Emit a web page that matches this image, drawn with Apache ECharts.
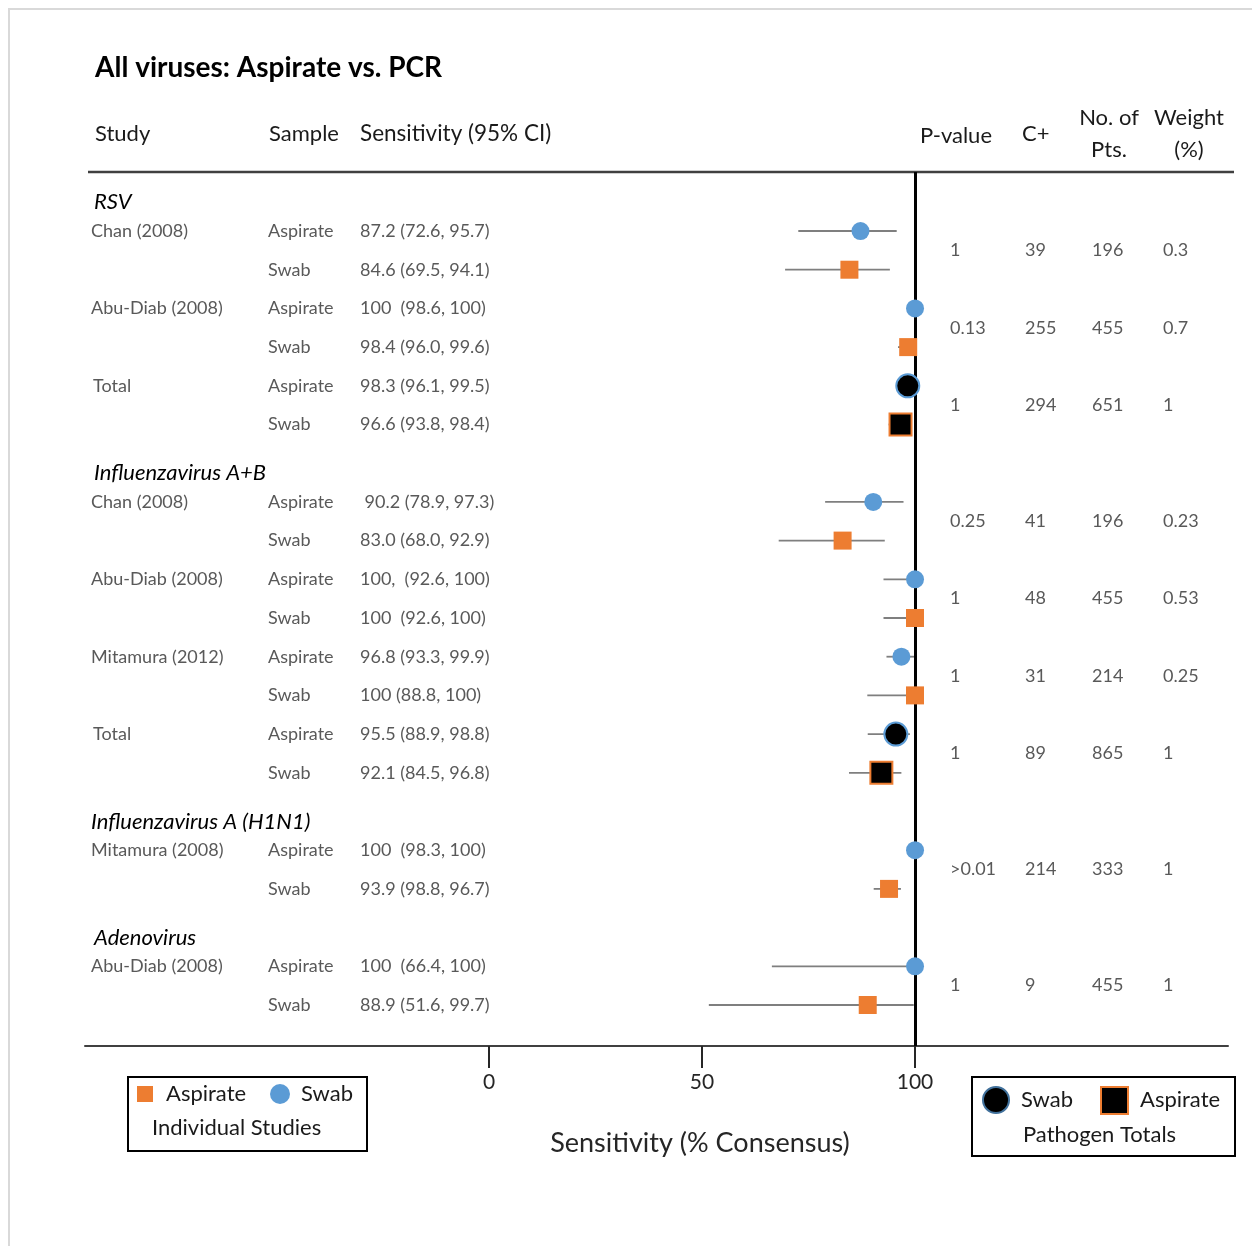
<!DOCTYPE html>
<html>
<head>
<meta charset="utf-8">
<title>All viruses: Aspirate vs. PCR</title>
<script src="https://cdn.jsdelivr.net/npm/echarts@6/dist/echarts.min.js"></script>
<style>
  html, body { margin: 0; padding: 0; background: #ffffff; }
  #chart { width: 1252px; height: 1246px; }
</style>
</head>
<body>
<div id="chart"></div>
<script>
// ---- Data ---------------------------------------------------------------
const groupNames = ['RSV', 'Influenzavirus A+B', 'Influenzavirus A (H1N1)', 'Adenovirus'];
const groupRows = [-1, 6, 15, 18];

const studies = ['Chan (2008)', '', 'Abu-Diab (2008)', '', 'Total', '',
  'Chan (2008)', '', 'Abu-Diab (2008)', '', 'Mitamura (2012)', '', 'Total', '',
  'Mitamura (2008)', '', 'Abu-Diab (2008)', ''];
const samples = ['Aspirate', 'Swab', 'Aspirate', 'Swab', 'Aspirate', 'Swab',
  'Aspirate', 'Swab', 'Aspirate', 'Swab', 'Aspirate', 'Swab', 'Aspirate', 'Swab',
  'Aspirate', 'Swab', 'Aspirate', 'Swab'];
const rows = [0, 1, 2, 3, 4, 5, 7, 8, 9, 10, 11, 12, 13, 14, 16, 17, 19, 20];
const isTotal = [0, 0, 0, 0, 1, 1, 0, 0, 0, 0, 0, 0, 1, 1, 0, 0, 0, 0];
const sensitivity = [87.2, 84.6, 100, 98.4, 98.3, 96.6, 90.2, 83.0, 100, 100,
  96.8, 100, 95.5, 92.1, 100, 93.9, 100, 88.9];
const ciLower = [72.6, 69.5, 98.6, 96.0, 96.1, 93.8, 78.9, 68.0, 92.6, 92.6,
  93.3, 88.8, 88.9, 84.5, 98.3, 90.3, 66.4, 51.6];
const ciUpper = [95.7, 94.1, 100, 99.6, 99.5, 98.4, 97.3, 92.9, 100, 100,
  99.9, 100, 98.8, 96.8, 100, 96.7, 100, 99.7];
const ciText = ['87.2 (72.6, 95.7)', '84.6 (69.5, 94.1)', '100  (98.6, 100)',
  '98.4 (96.0, 99.6)', '98.3 (96.1, 99.5)', '96.6 (93.8, 98.4)',
  ' 90.2 (78.9, 97.3)', '83.0 (68.0, 92.9)', '100,  (92.6, 100)',
  '100  (92.6, 100)', '96.8 (93.3, 99.9)', '100 (88.8, 100)',
  '95.5 (88.9, 98.8)', '92.1 (84.5, 96.8)', '100  (98.3, 100)',
  '93.9 (98.8, 96.7)', '100  (66.4, 100)', '88.9 (51.6, 99.7)'];

// one set of statistics per Aspirate/Swab pair
const pairRows = [0.5, 2.5, 4.5, 7.5, 9.5, 11.5, 13.5, 16.5, 19.5];
const pValues = ['1', '0.13', '1', '0.25', '1', '1', '1', '>0.01', '1'];
const cPositive = ['39', '255', '294', '41', '48', '31', '89', '214', '9'];
const numPatients = ['196', '455', '651', '196', '455', '214', '865', '333', '455'];
const weights = ['0.3', '0.7', '1', '0.23', '0.53', '0.25', '1', '1', '1'];

const xTicks = [0, 50, 100];

// ---- Styling ------------------------------------------------------------
const FONT = 'Lato, "Open Sans", sans-serif';
const BLUE = '#5B9BD5';
const ORANGE = '#ED7D31';
const ROW_TEXT = '#595959';
const col = { study: 91, sample: 268, ci: 360, p: 950, c: 1025, n: 1092, w: 1163 };

// ---- Series data --------------------------------------------------------
const indiv = rows.map((r, i) => i).filter(i => !isTotal[i]);
const totals = rows.map((r, i) => i).filter(i => isTotal[i]);
const aspInd = indiv.filter(i => samples[i] === 'Aspirate').map(i => [sensitivity[i], rows[i]]);
const swabInd = indiv.filter(i => samples[i] === 'Swab').map(i => [sensitivity[i], rows[i]]);
const aspTot = totals.filter(i => samples[i] === 'Aspirate').map(i => [sensitivity[i], rows[i]]);
const swabTot = totals.filter(i => samples[i] === 'Swab').map(i => [sensitivity[i], rows[i]]);
const ciData = rows.map((r, i) => [ciLower[i], ciUpper[i], r]);

function txt(x, y, text, size, color, extra) {
  return {
    type: 'text',
    style: Object.assign({
      x: x, y: y, text: text, fill: color, font: size + 'px ' + FONT,
      textVerticalAlign: 'middle', textAlign: 'left'
    }, extra || {})
  };
}

const chart = echarts.init(document.getElementById('chart'), null, { renderer: 'canvas' });

chart.setOption({
  backgroundColor: '#ffffff',
  animation: false,
  textStyle: { fontFamily: FONT },
  grid: { left: 85, right: 24, top: 172, bottom: 200 },
  xAxis: {
    type: 'value',
    position: 'bottom',
    min: -94.84,
    max: 173.47,
    splitLine: { show: false },
    axisLine: { show: true, onZero: false, lineStyle: { color: '#404040', width: 2 } },
    axisTick: {
      show: true, customValues: xTicks, length: 22, inside: false,
      lineStyle: { color: '#262626', width: 2 }
    },
    axisLabel: {
      show: true, customValues: xTicks, margin: 26,
      fontSize: 21, color: '#262626', fontFamily: FONT
    }
  },
  yAxis: {
    type: 'value', min: -1.525, max: 21.06, inverse: true, show: false
  },
  graphic: [
    // outer frame
    { type: 'polyline', shape: { points: [[9, 1246], [9, 9], [1252, 9]] },
      style: { stroke: '#d9d9d9', lineWidth: 2, fill: null }, silent: true },
    // title and column headings
    txt(95, 68, 'All viruses: Aspirate vs. PCR', 28, '#000000', { font: 'bold 28px ' + FONT }),
    txt(95, 134, 'Study', 22, '#1a1a1a'),
    txt(269, 134, 'Sample', 22, '#1a1a1a'),
    txt(360, 134, 'Sensitivity (95% CI)', 22.5, '#1a1a1a'),
    txt(920, 136, 'P-value', 22, '#1a1a1a'),
    txt(1022, 134, 'C+', 22, '#1a1a1a'),
    txt(1109, 118, 'No. of', 22, '#1a1a1a', { textAlign: 'center' }),
    txt(1109, 150, 'Pts.', 22, '#1a1a1a', { textAlign: 'center' }),
    txt(1189, 118, 'Weight', 22, '#1a1a1a', { textAlign: 'center' }),
    txt(1189, 150, '(%)', 22, '#1a1a1a', { textAlign: 'center' }),
    // heading rule
    { type: 'line', shape: { x1: 88, y1: 172, x2: 1234, y2: 172 },
      style: { stroke: '#404040', lineWidth: 2.5 }, silent: true },
    // axis title
    txt(700, 1143, 'Sensitivity (% Consensus)', 27, '#262626', { textAlign: 'center' }),
    // legend: individual studies
    { type: 'rect', shape: { x: 128, y: 1077, width: 239, height: 74 },
      style: { fill: '#fff', stroke: '#000', lineWidth: 2 }, silent: true },
    { type: 'rect', shape: { x: 137, y: 1086, width: 16, height: 16 },
      style: { fill: ORANGE }, silent: true },
    txt(166, 1094, 'Aspirate', 22, '#1a1a1a'),
    { type: 'circle', shape: { cx: 280, cy: 1094, r: 10 }, style: { fill: BLUE }, silent: true },
    txt(301, 1094, 'Swab', 22, '#1a1a1a'),
    txt(152, 1128, 'Individual Studies', 22, '#1a1a1a'),
    // legend: pathogen totals
    { type: 'rect', shape: { x: 972, y: 1077, width: 263, height: 79 },
      style: { fill: '#fff', stroke: '#000', lineWidth: 2 }, silent: true },
    { type: 'circle', shape: { cx: 996, cy: 1100, r: 13 },
      style: { fill: '#000', stroke: '#41719C', lineWidth: 2 }, silent: true },
    txt(1021, 1100, 'Swab', 22, '#1a1a1a'),
    { type: 'rect', shape: { x: 1101, y: 1087, width: 27, height: 27 },
      style: { fill: '#000', stroke: ORANGE, lineWidth: 2 }, silent: true },
    txt(1140, 1100, 'Aspirate', 22, '#1a1a1a'),
    txt(1023, 1135, 'Pathogen Totals', 22, '#1a1a1a')
  ],
  series: [
    {
      // confidence-interval whiskers and the 100% reference line
      name: 'CI',
      type: 'custom',
      z: 2,
      silent: true,
      data: ciData,
      renderItem: function (params, api) {
        const a = api.coord([api.value(0), api.value(2)]);
        const b = api.coord([api.value(1), api.value(2)]);
        return {
          type: 'line',
          shape: { x1: a[0], y1: a[1], x2: b[0], y2: b[1] },
          style: { stroke: '#7f7f7f', lineWidth: 1.8 }
        };
      },
      markLine: {
        silent: true,
        symbol: ['none', 'none'],
        label: { show: false },
        lineStyle: { color: '#000', width: 3, type: 'solid' },
        data: [{ xAxis: 100 }],
        z: 3
      }
    },
    {
      name: 'Aspirate', type: 'scatter', z: 5, data: aspInd,
      symbol: 'circle', symbolSize: 18, itemStyle: { color: BLUE, opacity: 1 }
    },
    {
      name: 'Swab', type: 'scatter', z: 5, data: swabInd,
      symbol: 'rect', symbolSize: 18, itemStyle: { color: ORANGE, opacity: 1 }
    },
    {
      name: 'Aspirate total', type: 'scatter', z: 6, data: aspTot,
      symbol: 'circle', symbolSize: 23,
      itemStyle: { color: '#000', borderColor: BLUE, borderWidth: 2, opacity: 1 }
    },
    {
      name: 'Swab total', type: 'scatter', z: 6, data: swabTot,
      symbol: 'rect', symbolSize: 22,
      itemStyle: { color: '#000', borderColor: ORANGE, borderWidth: 2, opacity: 1 }
    },
    {
      // study / sample / sensitivity columns
      name: 'table', type: 'custom', silent: true, z: 10,
      data: rows.map((r, i) => [0, r, i]),
      renderItem: function (params, api) {
        const i = api.value(2);
        const y = api.coord([0, api.value(1)])[1];
        const children = [
          txt(col.sample, y, samples[i], 18, ROW_TEXT),
          txt(col.ci, y, ciText[i], 18, ROW_TEXT)
        ];
        if (studies[i]) {
          children.push(txt(studies[i] === 'Total' ? 93 : col.study, y, studies[i], 18, ROW_TEXT));
        }
        return { type: 'group', children: children };
      }
    },
    {
      // pathogen group headings
      name: 'groups', type: 'custom', silent: true, z: 10,
      data: groupRows.map((r, i) => [0, r, i]),
      renderItem: function (params, api) {
        const i = api.value(2);
        const y = api.coord([0, api.value(1)])[1] + 10;
        return txt(i === 2 ? 91 : 94, y, groupNames[i], 22, '#000',
          { font: 'italic 22px ' + FONT });
      }
    },
    {
      // per-pair statistics columns
      name: 'stats', type: 'custom', silent: true, z: 10,
      data: pairRows.map((r, i) => [0, r, i]),
      renderItem: function (params, api) {
        const i = api.value(2);
        const y = api.coord([0, api.value(1)])[1];
        return {
          type: 'group',
          children: [
            txt(col.p, y, pValues[i], 18, ROW_TEXT),
            txt(col.c, y, cPositive[i], 18, ROW_TEXT),
            txt(col.n, y, numPatients[i], 18, ROW_TEXT),
            txt(col.w, y, weights[i], 18, ROW_TEXT)
          ]
        };
      }
    }
  ]
});
</script>
</body>
</html>
